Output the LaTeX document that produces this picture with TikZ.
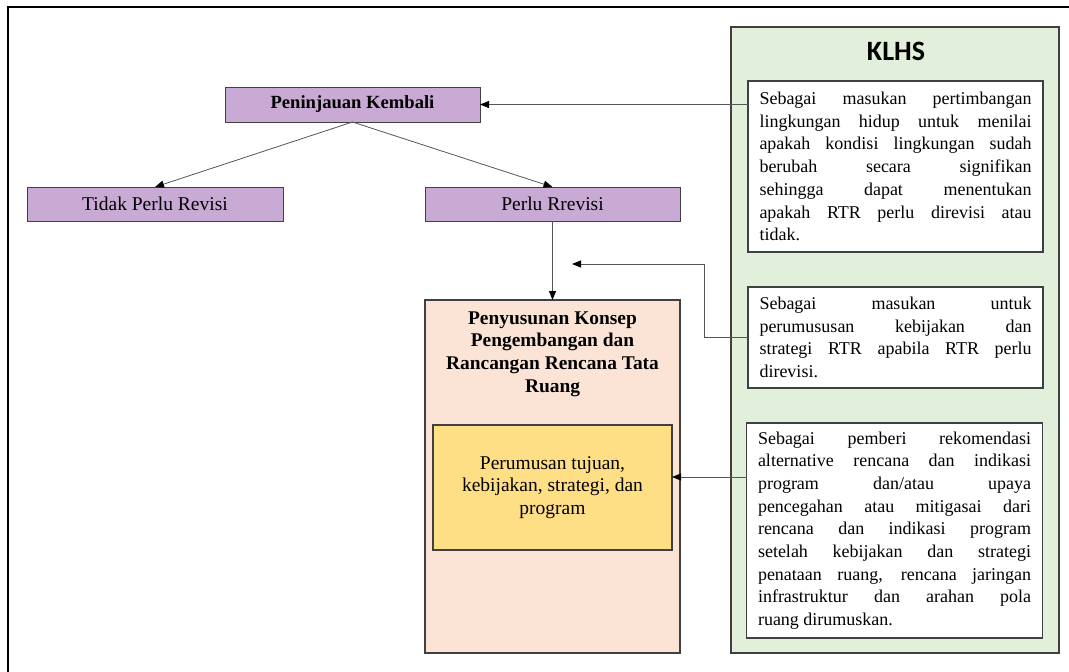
\documentclass[tikz,border=0pt]{standalone}
\usepackage{fontspec}
\setmainfont{Liberation Serif}
\newfontfamily\klhsfont{Carlito}
\usetikzlibrary{arrows.meta,calc}
\definecolor{purp}{HTML}{C9AAD5}
\definecolor{peach}{HTML}{FBE4D6}
\definecolor{yell}{HTML}{FFDF86}
\definecolor{greenbg}{HTML}{E2EFDA}
\definecolor{edge}{HTML}{404040}
\definecolor{conn}{HTML}{555555}
\begin{document}
\begin{tikzpicture}[x=1pt,y=-1pt,
  every node/.style={inner sep=0pt, outer sep=0pt},
  pbox/.style={draw=edge, line width=0.9pt, fill=purp, minimum width=255pt, minimum height=34pt, font=\fontsize{19.5}{23}\selectfont},
  wbox/.style={draw=edge, line width=1.3pt, fill=white, text width=272pt, inner xsep=11.5pt, align=justify, font=\fontsize{18}{22.7}\selectfont},
  arr/.style={draw=conn, line width=0.8pt, -{Triangle[length=9pt,width=7pt,color=black]}},
  bodytxt/.style={font=\fontsize{19.5}{22.6}\selectfont, align=center}
]
\useasboundingbox (0,0) rectangle (1069,672);
% outer frame (cropped)
\draw[line width=1.6pt, black] (8,672) -- (8,7) -- (1069,7);

% left part
\node[pbox, minimum height=35pt, font=\fontsize{18.6}{22}\selectfont\bfseries] (pk) at (352.5,104.5) {Peninjauan Kembali};
\node[pbox, minimum width=256pt] (tidak) at (155,204) {Tidak Perlu Revisi};
\node[pbox] (perlu) at (552.5,204) {Perlu Rrevisi};

\node[draw=edge, line width=1.3pt, fill=peach, minimum width=255pt, minimum height=353pt] (pen) at (552.5,476.5) {};
\node[bodytxt, font=\fontsize{19.4}{22.6}\selectfont\bfseries] (pentitle) at (552.5,354) {Penyusunan Konsep\\Pengembangan dan\\Rancangan Rencana Tata\\Ruang};
\node[draw=edge, line width=1.3pt, fill=yell, minimum width=239pt, minimum height=125pt, bodytxt] (yellow) at (552.5,487.5) {Perumusan tujuan,\\kebijakan, strategi, dan\\program};

% KLHS
\node[draw=edge, line width=1.8pt, fill=greenbg, minimum width=328pt, minimum height=626pt] (klhs) at (895,340) {};
\node[font=\klhsfont\bfseries\fontsize{28}{32}\selectfont] (klhstitle) at (896,51) {KLHS};

\node[wbox, minimum height=171pt] (box1) at (895.5,166.5) {Sebagai masukan pertimbangan\linebreak lingkungan hidup untuk menilai\linebreak apakah kondisi lingkungan sudah\linebreak berubah secara signifikan\linebreak sehingga dapat menentukan\linebreak apakah RTR perlu direvisi atau\linebreak tidak.};
\node[wbox, minimum height=101pt] (box2) at (895.5,337.5) {Sebagai masukan untuk\linebreak perumususan kebijakan dan\linebreak strategi RTR apabila RTR perlu\linebreak direvisi.};
\node[wbox, text width=273pt, minimum height=215pt] (box3) at (894.5,530.5) {Sebagai pemberi rekomendasi\linebreak alternative rencana dan indikasi\linebreak program dan/atau upaya\linebreak pencegahan atau mitigasai dari\linebreak rencana dan indikasi program\linebreak setelah kebijakan dan strategi\linebreak penataan ruang, rencana jaringan\linebreak infrastruktur dan arahan pola\linebreak ruang dirumuskan.};

% connectors
\draw[arr] (box1.west |- pk.east) -- (pk.east);
\draw[arr] (pk.south) -- (tidak.north);
\draw[arr] (pk.south) -- (perlu.north);
\draw[arr] (perlu.south) -- (pen.north);
\coordinate (elbow) at (704,264);
\coordinate (freeend) at (572,264);
\draw[arr] (box2.west) -| (elbow) -- (freeend);
\coordinate (lvl) at (0,477);
\draw[arr] (box3.west |- lvl) -- (yellow.east |- lvl);
\end{tikzpicture}
\end{document}
